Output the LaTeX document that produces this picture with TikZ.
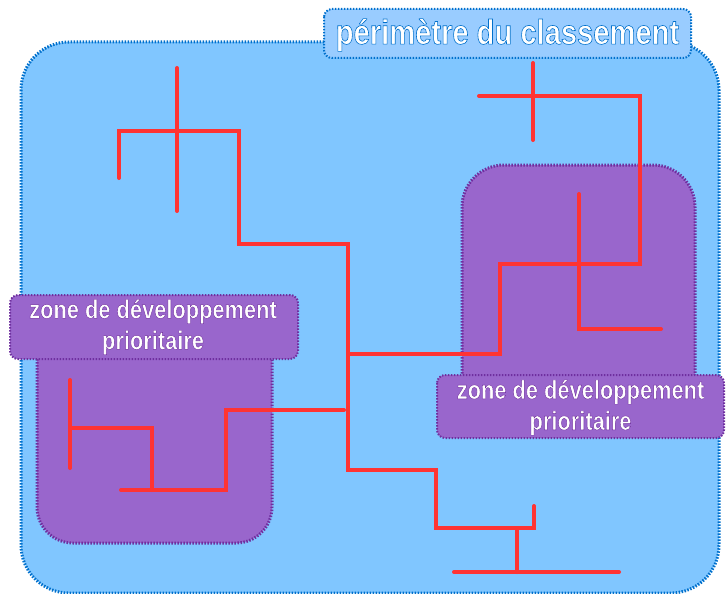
\documentclass[tikz,border=0pt]{standalone}
\usepackage{fontspec}
\setmainfont[FakeStretch=0.84]{Liberation Sans}
\definecolor{skyfill}{HTML}{80C6FF}
\definecolor{skyline}{HTML}{0070CC}
\definecolor{titlefill}{HTML}{99CCFF}
\definecolor{zonefill}{HTML}{9966CC}
\definecolor{zoneline}{HTML}{6F2F9F}
\definecolor{netred}{HTML}{FF3333}
\newcommand{\zoneink}{\special{pdf:code 2 Tr 0.4 w 0.44 0.18 0.62 RG 1 1 1 rg}}
\newcommand{\titleink}{\special{pdf:code 2 Tr 0.6 w 0 0.44 0.8 RG 1 1 1 rg}}
\newcommand{\plainink}{\special{pdf:code 0 Tr}}
\tikzset{
  x=1pt,y=-1pt,
  area/.style={line width=3pt,dash pattern=on 1.5pt off 1.5pt},
  perimeter/.style={area,draw=skyline,fill=skyfill},
  zone/.style={area,draw=zoneline,fill=zonefill},
  tagbox/.style={line width=2pt,dash pattern=on 1.5pt off 1.5pt,rounded corners=8pt},
  net/.style={draw=netred,line width=4pt,line cap=round,line join=miter},
  zonelabel/.style={text=white,align=center,font=\bfseries\fontsize{26}{31}\selectfont,inner sep=0pt},
  titlelabel/.style={text=white,font=\bfseries\fontsize{34.7}{36}\selectfont,inner sep=0pt},
}
\begin{document}
\begin{tikzpicture}
\useasboundingbox (0,0) rectangle (726,594);
% areas
\draw[perimeter,rounded corners=48pt] (21,42) rectangle (719,593);
\draw[zone,rounded corners=42pt] (462,165) rectangle (695,430);
\draw[zone,rounded corners=36pt] (37,305) rectangle (272,543);
% network
\draw[net] (177,68) -- (177,211);
\draw[net] (119,178) -- (119,131) -- (239,131) -- (239,244) -- (348,244) -- (348,470) -- (436,470) -- (436,528) -- (534,528) -- (534,506);
\draw[net] (517,528) -- (517,572);
\draw[net] (454,572) -- (619,572);
\draw[net] (348,354) -- (500,354) -- (500,264) -- (640,264) -- (640,96) -- (479,96);
\draw[net] (533,63) -- (533,140);
\draw[net] (579,194) -- (579,329) -- (661,329);
\draw[net] (344,410) -- (226,410) -- (226,490) -- (121,490);
\draw[net] (152,490) -- (152,428) -- (70,428);
\draw[net] (70,380) -- (70,468);
% label boxes
\draw[tagbox,draw=skyline,fill=titlefill] (324,9) rectangle (691,58);
\draw[tagbox,draw=zoneline,fill=zonefill] (10,295) rectangle (298,359);
\draw[tagbox,draw=zoneline,fill=zonefill] (437,375) rectangle (724,438);
% labels
\node[titlelabel] (title) at (507.5,35) {\titleink périmètre du classement\plainink};
\node[zonelabel] (zoneA) at (153,327) {\zoneink zone de développement\\\zoneink prioritaire\plainink};
\node[zonelabel] (zoneB) at (580.5,407.5) {\zoneink zone de développement\\\zoneink prioritaire\plainink};
\end{tikzpicture}
\end{document}
